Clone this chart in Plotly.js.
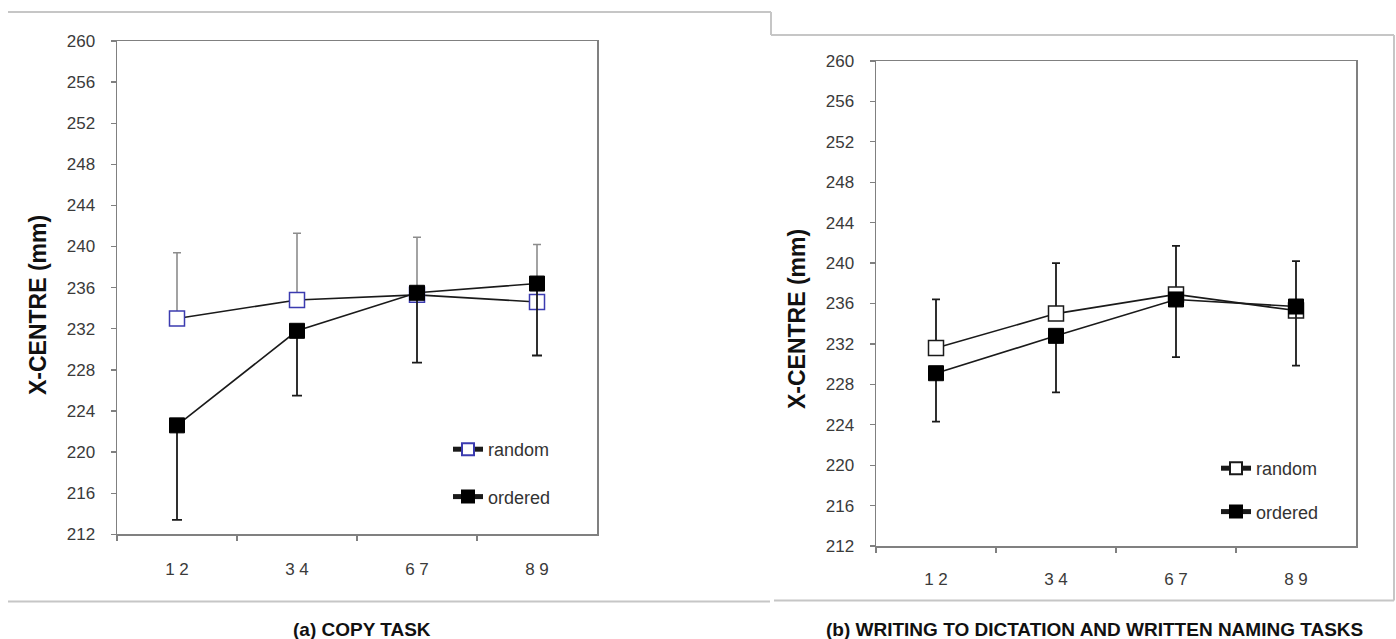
<!DOCTYPE html>
<html>
<head>
<meta charset="utf-8">
<script src="https://cdn.plot.ly/plotly-3.0.1.min.js"></script>
<style>html,body{margin:0;padding:0;background:#fff;}#chart{width:1396px;height:639px;}</style>
</head>
<body>
<div id="chart"></div>
<script>
// ---------- data ----------
const categories = ["1 2", "3 4", "6 7", "8 9"];

// (a) copy task
const copyRandom = [233.0, 234.8, 235.3, 234.6];
const copyRandomErrUp = [6.4, 6.5, 5.6, 5.6];
const copyOrdered = [222.6, 231.8, 235.5, 236.4];
const copyOrderedErrDown = [9.2, 6.3, 6.8, 7.0];

// (b) writing to dictation and written naming
const dictRandom = [231.6, 235.0, 236.9, 235.3];
const dictRandomErrUp = [4.8, 5.0, 4.8, 4.9];
const dictOrdered = [229.1, 232.8, 236.4, 235.7];
const dictOrderedErrDown = [4.8, 5.6, 5.7, 5.85];

const yTicks = [212, 216, 220, 224, 228, 232, 236, 240, 244, 248, 252, 256, 260];
const yTitle = "X-CENTRE (mm)";
const titleA = "(a) COPY TASK";
const titleB = "(b) WRITING TO DICTATION AND WRITTEN NAMING TASKS";

// ---------- layout helpers ----------
const W = 1396, H = 639;
const px = v => v / W;
const py = v => 1 - v / H;
const FONT = "Arial, 'Liberation Sans', sans-serif";

const traces = [
  {
    x: categories, y: copyRandom, name: "random", type: "scatter", mode: "lines+markers",
    xaxis: "x", yaxis: "y", legend: "legend", legendgroup: "a1",
    line: {color: "#1a1a1a", width: 1.6},
    marker: {symbol: "square", size: 15, color: "#ffffff", line: {color: "#3b3bb0", width: 1.5}},
    error_y: {type: "data", symmetric: false, array: copyRandomErrUp, arrayminus: [0,0,0,0],
              color: "#8c8c8c", thickness: 1.6, width: 4}
  },
  {
    x: categories, y: copyOrdered, name: "ordered", type: "scatter", mode: "lines+markers",
    xaxis: "x", yaxis: "y", legend: "legend", legendgroup: "a2",
    line: {color: "#1a1a1a", width: 1.6},
    marker: {symbol: "square", size: 15, color: "#000000", line: {color: "#000000", width: 1}},
    error_y: {type: "data", symmetric: false, array: [0,0,0,0], arrayminus: copyOrderedErrDown,
              color: "#1a1a1a", thickness: 1.8, width: 5}
  },
  {
    x: categories, y: dictRandom, name: "random", type: "scatter", mode: "lines+markers",
    xaxis: "x2", yaxis: "y2", legend: "legend2", legendgroup: "b1",
    line: {color: "#1a1a1a", width: 1.6},
    marker: {symbol: "square", size: 15, color: "#ffffff", line: {color: "#1a1a1a", width: 1.5}},
    error_y: {type: "data", symmetric: false, array: dictRandomErrUp, arrayminus: [0,0,0,0],
              color: "#1a1a1a", thickness: 1.8, width: 4}
  },
  {
    x: categories, y: dictOrdered, name: "ordered", type: "scatter", mode: "lines+markers",
    xaxis: "x2", yaxis: "y2", legend: "legend2", legendgroup: "b2",
    line: {color: "#1a1a1a", width: 1.6},
    marker: {symbol: "square", size: 15, color: "#000000", line: {color: "#000000", width: 1}},
    error_y: {type: "data", symmetric: false, array: [0,0,0,0], arrayminus: dictOrderedErrDown,
              color: "#1a1a1a", thickness: 1.8, width: 4}
  }
];

function xAxis(domain, standoff) {
  return {
    domain: domain, type: "category", categoryorder: "array", categoryarray: categories,
    range: [-0.5, 3.5], tickson: "boundaries", ticks: "outside", ticklen: 5,
    tickcolor: "#808080", tickwidth: 1.3, showline: true, linecolor: "#808080", linewidth: 1.5,
    mirror: true, showgrid: false, zeroline: false, fixedrange: true,
    ticklabelstandoff: standoff,
    tickfont: {family: FONT, size: 17, color: "#3a3a3a"}
  };
}
function yAxis(domain, anchor) {
  return {
    domain: domain, anchor: anchor, range: [212, 260], tickmode: "array", tickvals: yTicks,
    ticks: "outside", ticklen: 5, tickcolor: "#808080", tickwidth: 1.3,
    showline: true, linecolor: "#808080", linewidth: 1.5, mirror: true,
    showgrid: false, zeroline: false, fixedrange: true, ticklabelstandoff: 12,
    tickfont: {family: FONT, size: 17, color: "#3a3a3a"}
  };
}

const frameColor = "#c6c6c6";
const layout = {
  width: W, height: H,
  margin: {l: 0, r: 0, t: 0, b: 0, pad: 0},
  paper_bgcolor: "#ffffff", plot_bgcolor: "#ffffff",
  showlegend: true,
  xaxis: Object.assign(xAxis([px(117), px(597)], 19), {anchor: "y"}),
  yaxis: yAxis([py(534.3), py(41)], "x"),
  xaxis2: Object.assign(xAxis([px(876), px(1356)], 17), {anchor: "y2"}),
  yaxis2: yAxis([py(546), py(61)], "x2"),
  legend: {
    x: px(448), y: py(431), xanchor: "left", yanchor: "top",
    bgcolor: "rgba(0,0,0,0)", borderwidth: 0, tracegroupgap: 21, traceorder: "grouped",
    itemsizing: "constant", font: {family: FONT, size: 18, color: "#333333"}
  },
  legend2: {
    x: px(1216), y: py(450), xanchor: "left", yanchor: "top",
    bgcolor: "rgba(0,0,0,0)", borderwidth: 0, tracegroupgap: 17, traceorder: "grouped",
    itemsizing: "constant", font: {family: FONT, size: 18, color: "#333333"}
  },
  shapes: [
    // frame of panel (a)
    {type: "line", xref: "paper", yref: "paper", x0: px(8), x1: px(771), y0: py(12), y1: py(12), line: {color: frameColor, width: 2}},
    {type: "line", xref: "paper", yref: "paper", x0: px(771), x1: px(771), y0: py(12), y1: py(35), line: {color: frameColor, width: 2}},
    {type: "line", xref: "paper", yref: "paper", x0: px(8), x1: px(770), y0: py(601.5), y1: py(601.5), line: {color: frameColor, width: 2}},
    // frame of panel (b)
    {type: "line", xref: "paper", yref: "paper", x0: px(771), x1: px(1394), y0: py(35), y1: py(35), line: {color: frameColor, width: 2}},
    {type: "line", xref: "paper", yref: "paper", x0: px(1394), x1: px(1394), y0: py(35), y1: py(600.5), line: {color: frameColor, width: 2}},
    {type: "line", xref: "paper", yref: "paper", x0: px(774), x1: px(1394), y0: py(600.5), y1: py(600.5), line: {color: frameColor, width: 2}}
  ],
  annotations: [
    {text: "<b>" + yTitle + "</b>", xref: "paper", yref: "paper", x: px(38), y: py(305),
     textangle: -90, showarrow: false, xanchor: "center", yanchor: "middle",
     font: {family: FONT, size: 23, color: "#111111"}},
    {text: "<b>" + yTitle + "</b>", xref: "paper", yref: "paper", x: px(797), y: py(319),
     textangle: -90, showarrow: false, xanchor: "center", yanchor: "middle",
     font: {family: FONT, size: 23, color: "#111111"}},
    {text: "<b>" + titleA + "</b>", xref: "paper", yref: "paper", x: px(362), y: py(629),
     showarrow: false, xanchor: "center", yanchor: "middle",
     font: {family: FONT, size: 19, color: "#111111"}},
    {text: "<b>" + titleB + "</b>", xref: "paper", yref: "paper", x: px(1094), y: py(629),
     showarrow: false, xanchor: "center", yanchor: "middle",
     font: {family: FONT, size: 19, color: "#111111"}}
  ]
};

Plotly.newPlot("chart", traces, layout, {staticPlot: true, displayModeBar: false});
</script>
</body>
</html>
